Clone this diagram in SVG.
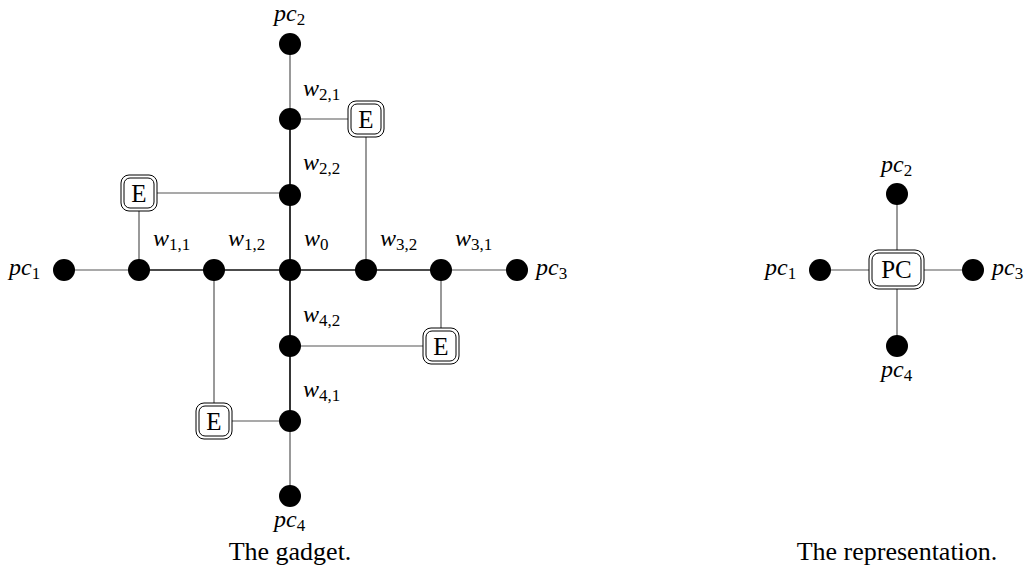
<svg xmlns="http://www.w3.org/2000/svg" width="1029" height="570" viewBox="0 0 1029 570">
<style>
.e{stroke:#555;stroke-width:1.2;fill:none}
.t{stroke:#111;stroke-width:1.7;fill:none}
.n{fill:#000}
.bo{fill:#fff;stroke:#000;stroke-width:1}
.bi{fill:none;stroke:#000;stroke-width:1}
.lab{font-family:"Liberation Serif","DejaVu Serif",serif;font-style:italic;font-size:24px;fill:#000}
.sub{font-style:normal;font-size:17px}
.bt{font-family:"Liberation Serif","DejaVu Serif",serif;font-size:25px;fill:#000;text-anchor:middle}
.cap{font-family:"Liberation Serif","DejaVu Serif",serif;font-size:26px;fill:#000;text-anchor:middle}
</style>
<rect width="1029" height="570" fill="#fff"/>
<g id="connectors">
<line class="e" x1="64" y1="270" x2="139" y2="270"/>
<line class="e" x1="441" y1="270" x2="517" y2="270"/>
<line class="t" x1="139" y1="270" x2="441" y2="270"/>
<line class="e" x1="290" y1="44" x2="290" y2="119"/>
<line class="e" x1="290" y1="421" x2="290" y2="496"/>
<line class="t" x1="290" y1="119" x2="290" y2="421"/>
<line class="e" x1="290" y1="119" x2="366" y2="119"/>
<line class="e" x1="366" y1="119" x2="366" y2="270"/>
<line class="e" x1="139" y1="193" x2="290" y2="193"/>
<line class="e" x1="139" y1="193" x2="139" y2="270"/>
<line class="e" x1="441" y1="270" x2="441" y2="346"/>
<line class="e" x1="290" y1="346" x2="441" y2="346"/>
<line class="e" x1="214" y1="270" x2="214" y2="421"/>
<line class="e" x1="214" y1="421" x2="290" y2="421"/>
<line class="e" x1="820" y1="270" x2="973" y2="270"/>
<line class="e" x1="897" y1="194" x2="897" y2="346"/>
</g>
<g id="pc2"><circle class="n" cx="290" cy="44" r="11"/><text class="lab" x="274" y="21">pc<tspan class="sub" dy="4">2</tspan></text></g>
<g id="w21"><circle class="n" cx="290" cy="119" r="11"/><text class="lab" x="303" y="96">w<tspan class="sub" dy="4">2,1</tspan></text></g>
<g id="w22"><circle class="n" cx="290" cy="195" r="11"/><text class="lab" x="303" y="170">w<tspan class="sub" dy="4">2,2</tspan></text></g>
<g id="w0"><circle class="n" cx="290" cy="270" r="11"/><text class="lab" x="304" y="246">w<tspan class="sub" dy="4">0</tspan></text></g>
<g id="w42"><circle class="n" cx="290" cy="346" r="11"/><text class="lab" x="303" y="322">w<tspan class="sub" dy="4">4,2</tspan></text></g>
<g id="w41"><circle class="n" cx="290" cy="421" r="11"/><text class="lab" x="303" y="397">w<tspan class="sub" dy="4">4,1</tspan></text></g>
<g id="pc4"><circle class="n" cx="290" cy="496" r="11"/><text class="lab" x="274" y="527">pc<tspan class="sub" dy="4">4</tspan></text></g>
<g id="pc1"><circle class="n" cx="64" cy="270" r="11"/><text class="lab" x="9" y="275">pc<tspan class="sub" dy="4">1</tspan></text></g>
<g id="w11"><circle class="n" cx="139" cy="270" r="11"/><text class="lab" x="153" y="246">w<tspan class="sub" dy="4">1,1</tspan></text></g>
<g id="w12"><circle class="n" cx="214" cy="270" r="11"/><text class="lab" x="228" y="246">w<tspan class="sub" dy="4">1,2</tspan></text></g>
<g id="w32"><circle class="n" cx="366" cy="270" r="11"/><text class="lab" x="380" y="246">w<tspan class="sub" dy="4">3,2</tspan></text></g>
<g id="w31"><circle class="n" cx="441" cy="270" r="11"/><text class="lab" x="455" y="246">w<tspan class="sub" dy="4">3,1</tspan></text></g>
<g id="pc3"><circle class="n" cx="517" cy="270" r="11"/><text class="lab" x="536" y="275">pc<tspan class="sub" dy="4">3</tspan></text></g>
<g id="E1"><rect class="bo" x="121" y="175" width="36" height="36" rx="8"/><rect class="bi" x="124" y="178" width="30" height="30" rx="6"/><text class="bt" x="139" y="202">E</text></g>
<g id="E2"><rect class="bo" x="348" y="101" width="36" height="36" rx="8"/><rect class="bi" x="351" y="104" width="30" height="30" rx="6"/><text class="bt" x="366" y="128">E</text></g>
<g id="E3"><rect class="bo" x="423" y="328" width="36" height="36" rx="8"/><rect class="bi" x="426" y="331" width="30" height="30" rx="6"/><text class="bt" x="441" y="355">E</text></g>
<g id="E4"><rect class="bo" x="196" y="403" width="36" height="36" rx="8"/><rect class="bi" x="199" y="406" width="30" height="30" rx="6"/><text class="bt" x="214" y="430">E</text></g>
<g id="rpc2"><circle class="n" cx="897" cy="194" r="11"/><text class="lab" x="881" y="172">pc<tspan class="sub" dy="4">2</tspan></text></g>
<g id="rpc4"><circle class="n" cx="897" cy="346" r="11"/><text class="lab" x="881" y="377">pc<tspan class="sub" dy="4">4</tspan></text></g>
<g id="rpc1"><circle class="n" cx="820" cy="270" r="11"/><text class="lab" x="765" y="275">pc<tspan class="sub" dy="4">1</tspan></text></g>
<g id="rpc3"><circle class="n" cx="973" cy="270" r="11"/><text class="lab" x="992" y="275">pc<tspan class="sub" dy="4">3</tspan></text></g>
<g id="PC"><rect class="bo" x="869" y="250" width="55" height="39" rx="9"/><rect class="bi" x="872" y="253" width="49" height="33" rx="7"/><text class="bt" x="896.5" y="278">PC</text></g>
<text class="cap" x="290" y="560">The gadget.</text>
<text class="cap" x="897" y="560">The representation.</text>
</svg>
